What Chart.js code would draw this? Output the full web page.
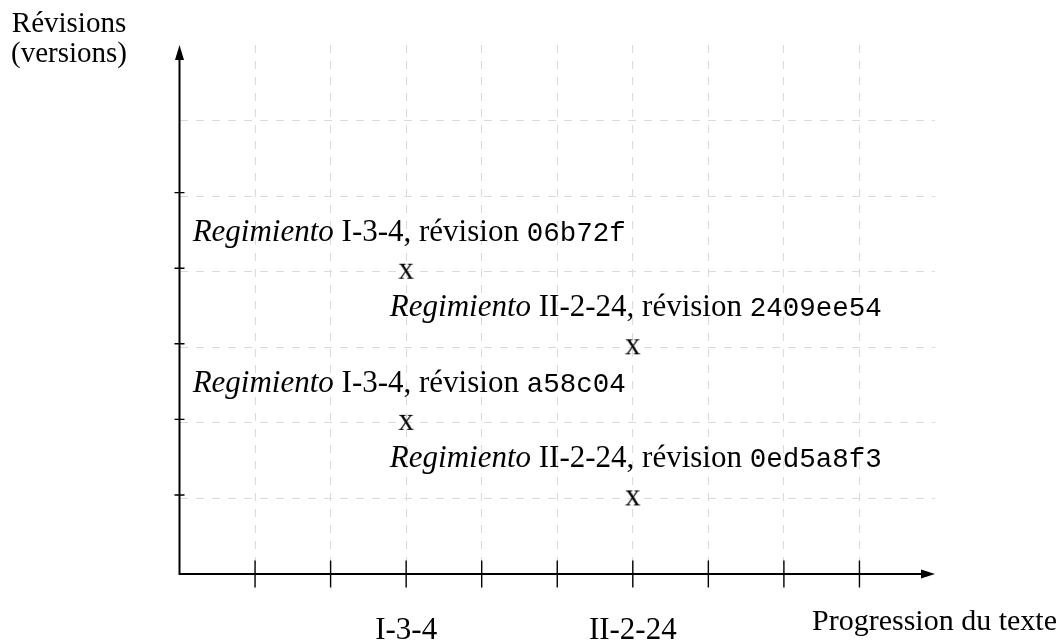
<!DOCTYPE html>
<html>
<head>
<meta charset="utf-8">
<script src="https://cdn.jsdelivr.net/npm/chart.js@4/dist/chart.umd.min.js"></script>
<style>
  html, body { margin: 0; padding: 0; background: #fff; }
  #wrap { width: 1064px; height: 641px; }
</style>
</head>
<body>
<div id="wrap"><canvas id="chart" width="1064" height="641"></canvas></div>
<script>
// revisions plotted against progression in the text
const pointX = [3, 6, 3, 6];
const pointY = [4, 3, 2, 1];
const passages = ["I-3-4", "II-2-24", "I-3-4", "II-2-24"];
const revisions = ["06b72f", "2409ee54", "a58c04", "0ed5a8f3"];

const xTickValues = [1, 2, 3, 4, 5, 6, 7, 8, 9];
const yTickValues = [1, 2, 3, 4, 5];
const xLabelValues = [3, 6];
const xLabelTexts = ["I-3-4", "II-2-24"];

const SERIF = '"Liberation Serif", "DejaVu Serif", serif';
const MONO = '"Liberation Mono", "DejaVu Sans Mono", monospace';

// the "x" glyph used as point marker
const marker = document.createElement("canvas");
marker.width = 24; marker.height = 24;
const mctx = marker.getContext("2d");
mctx.font = "31px " + SERIF;
mctx.textAlign = "center";
mctx.textBaseline = "alphabetic";
mctx.fillStyle = "#000";
mctx.fillText("x", 12, 19);

const gridColor = (lo, hi) => (ctx) => {
  const v = ctx.tick && ctx.tick.value;
  return (v >= lo && v <= hi) ? "#dadada" : "rgba(0,0,0,0)";
};

const axesPlugin = {
  id: "axes",
  afterDraw(chart) {
    const { ctx, scales: { x, y } } = chart;
    const x0 = x.getPixelForValue(0), y0 = y.getPixelForValue(0);
    const xEnd = x.getPixelForValue(10), yEnd = y.getPixelForValue(7);
    ctx.save();
    ctx.strokeStyle = "#000";
    ctx.fillStyle = "#000";

    // axis lines
    ctx.lineWidth = 2;
    ctx.beginPath();
    ctx.moveTo(x0, yEnd + 12);
    ctx.lineTo(x0, y0);
    ctx.lineTo(xEnd - 12, y0);
    ctx.stroke();
    // arrow heads
    ctx.beginPath();
    ctx.moveTo(xEnd, y0);
    ctx.lineTo(xEnd - 14, y0 - 4.5);
    ctx.lineTo(xEnd - 14, y0 + 4.5);
    ctx.closePath();
    ctx.fill();
    ctx.beginPath();
    ctx.moveTo(x0, yEnd);
    ctx.lineTo(x0 - 4.5, yEnd + 15);
    ctx.lineTo(x0 + 4.5, yEnd + 15);
    ctx.closePath();
    ctx.fill();

    // tick marks
    ctx.lineWidth = 1.4;
    ctx.beginPath();
    xTickValues.forEach(v => {
      const px = x.getPixelForValue(v);
      ctx.moveTo(px, y0 - 13.5);
      ctx.lineTo(px, y0 + 13.5);
    });
    yTickValues.forEach(v => {
      const py = y.getPixelForValue(v) - 3.5;
      ctx.moveTo(x0 - 5, py);
      ctx.lineTo(x0 + 5, py);
    });
    ctx.stroke();

    // x labels
    ctx.font = "31px " + SERIF;
    ctx.textBaseline = "alphabetic";
    ctx.textAlign = "center";
    xLabelValues.forEach((v, i) => {
      ctx.fillText(xLabelTexts[i], x.getPixelForValue(v), y0 + 65);
    });
    ctx.font = "30px " + SERIF;
    ctx.textAlign = "right";
    ctx.fillText("Progression du texte", xEnd + 122, y0 + 56);

    // y axis title
    ctx.font = "29px " + SERIF;
    ctx.textAlign = "center";
    ctx.fillText("Révisions", 69, 32);
    ctx.fillText("(versions)", 69, 62);

    // point annotations
    ctx.textAlign = "left";
    const italic = "italic 31px " + SERIF;
    const roman = "31px " + SERIF;
    const mono = "27.5px " + MONO;
    pointX.forEach((pxv, i) => {
      const parts = [
        [italic, "Regimiento"],
        [roman, " " + passages[i] + ", révision "],
        [mono, revisions[i]]
      ];
      let w = 0;
      parts.forEach(p => { ctx.font = p[0]; w += ctx.measureText(p[1]).width; });
      let cx = x.getPixelForValue(pxv) + 3 - w / 2;
      const by = y.getPixelForValue(pointY[i]) - 31;
      parts.forEach(p => {
        ctx.font = p[0];
        ctx.fillText(p[1], cx, by);
        cx += ctx.measureText(p[1]).width;
      });
    });
    ctx.restore();
  }
};

new Chart(document.getElementById("chart"), {
  type: "scatter",
  data: {
    datasets: [{
      data: pointX.map((v, i) => ({ x: v, y: pointY[i] })),
      pointStyle: marker,
      pointRadius: 8
    }]
  },
  options: {
    responsive: false,
    animation: false,
    layout: { padding: { left: 179.5, right: 129, top: 45, bottom: 67 } },
    plugins: { legend: { display: false }, tooltip: { enabled: false } },
    scales: {
      x: {
        type: "linear", min: 0, max: 10,
        ticks: { stepSize: 1, display: false },
        grid: { color: gridColor(1, 9), lineWidth: 1, drawTicks: false },
        border: { display: false, dash: [8, 8] }
      },
      y: {
        type: "linear", min: 0, max: 7,
        ticks: { stepSize: 1, display: false },
        grid: { color: gridColor(1, 6), lineWidth: 1, drawTicks: false },
        border: { display: false, dash: [8, 8] }
      }
    }
  },
  plugins: [axesPlugin]
});
</script>
</body>
</html>
